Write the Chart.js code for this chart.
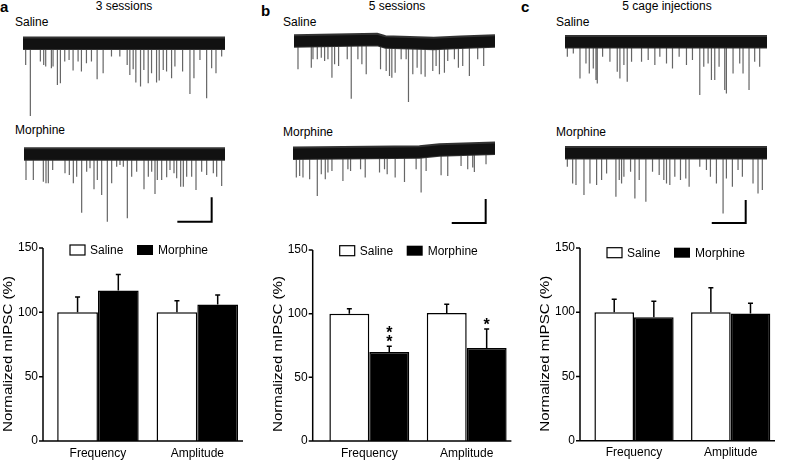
<!DOCTYPE html>
<html>
<head>
<meta charset="utf-8">
<script src="https://cdn.jsdelivr.net/npm/chart.js@4.4.1/dist/chart.umd.min.js"></script>
<style>
  body { margin: 0; background: #fff; }
  #page { position: relative; width: 785px; height: 463px; overflow: hidden;
          font-family: "Liberation Sans", Arial, sans-serif; color: #000; }
  #page canvas { position: absolute; }
  .lbl { position: absolute; font-size: 12px; line-height: 14px; white-space: nowrap; }
  .ttl { position: absolute; font-size: 12px; line-height: 14px; white-space: nowrap; transform: translateX(-50%); }
  .pl { position: absolute; font-size: 15px; font-weight: bold; line-height: 16px; }
</style>
</head>
<body>
<div id="page">
  <div class="pl" style="left:0px;top:-1px">a</div>
  <div class="pl" style="left:261px;top:3px">b</div>
  <div class="pl" style="left:521px;top:-1px">c</div>
  <div class="ttl" style="left:124px;top:-1px">3 sessions</div>
  <div class="ttl" style="left:397px;top:-1px">5 sessions</div>
  <div class="ttl" style="left:667px;top:-1px">5 cage injections</div>
  <div class="lbl" style="left:15px;top:15px">Saline</div>
  <div class="lbl" style="left:15px;top:123px">Morphine</div>
  <div class="lbl" style="left:283px;top:15px">Saline</div>
  <div class="lbl" style="left:283px;top:125px">Morphine</div>
  <div class="lbl" style="left:556px;top:15px">Saline</div>
  <div class="lbl" style="left:556px;top:125px">Morphine</div>

  <canvas id="traceASal" width="202" height="92" style="left:23px;top:30px"></canvas>
  <canvas id="traceAMor" width="201" height="88" style="left:24px;top:140px"></canvas>
  <canvas id="traceBSal" width="201" height="82" style="left:294px;top:26px"></canvas>
  <canvas id="traceBMor" width="202" height="92" style="left:293px;top:136px"></canvas>
  <canvas id="traceCSal" width="202" height="72" style="left:565px;top:30px"></canvas>
  <canvas id="traceCMor" width="202" height="88" style="left:565px;top:140px"></canvas>

  <canvas id="barA" width="260" height="233" style="left:0px;top:230px"></canvas>
  <canvas id="barB" width="260" height="233" style="left:260px;top:230px"></canvas>
  <canvas id="barC" width="265" height="233" style="left:520px;top:230px"></canvas>
</div>

<script>
// ---- bar chart data (normalized mIPSC, %) ----
const groups = ['Frequency', 'Amplitude'];
const yTicks = [0, 50, 100, 150];

const salineA = [100, 100];
const morphineA = [117, 106];
const salineErrA = [12, 9];
const morphineErrA = [12.5, 7.5];

const salineB = [100, 100.5];
const morphineB = [70, 73];
const salineErrB = [4, 7];
const morphineErrB = [4.5, 15];
const starsB = ['**', '*'];

const salineC = [100, 100];
const morphineC = [96, 99];
const salineErrC = [10, 19];
const morphineErrC = [12.5, 8];

// ---- example traces: event times (arb. units) and amplitudes (pA) ----
const aSalTimes = [8, 22, 52, 62, 68, 85, 90, 103, 112, 125, 138, 150, 165, 175, 190, 205, 222, 240, 265, 290, 312, 320, 330, 338, 352, 362, 375, 385, 400, 408, 420, 430, 445, 455, 478, 500, 512, 530, 550, 565, 578, 595];
const aSalAmps = [21.7, 72.7, 18.3, 21.7, 23.3, 25, 23.3, 41.7, 40, 18.3, 16.7, 27.3, 18.3, 28.3, 20, 18.3, 36, 30, 13.3, 13.3, 21.7, 31.7, 26, 39.3, 43.3, 26.7, 40, 30, 39.3, 37.3, 26.7, 28.3, 35, 23.3, 28.3, 50.7, 35, 16.7, 55, 25, 30, 13.3];

const aMorTimes = [6, 28, 58, 66, 73, 86, 123, 136, 148, 158, 173, 188, 198, 210, 220, 233, 250, 263, 278, 288, 298, 310, 323, 338, 360, 373, 383, 393, 400, 413, 428, 438, 450, 458, 470, 478, 488, 503, 516, 533, 548, 568, 578, 593];
const aMorAmps = [26, 26, 27.7, 29.3, 29.3, 16, 19.3, 21, 29.3, 22.7, 58.7, 17.7, 14.3, 35.3, 26, 41, 67.7, 29.3, 12.7, 11, 12.7, 64.3, 22.7, 17.7, 35.3, 22.7, 17.7, 40, 26, 26, 23.3, 16, 19.3, 24.3, 32.7, 32.7, 22.7, 22.7, 36, 17.7, 21, 19.3, 22.7, 32];

const bSalTimes = [12, 52, 57, 70, 82, 92, 102, 114, 122, 134, 160, 172, 192, 204, 217, 260, 277, 287, 294, 304, 322, 337, 344, 357, 370, 382, 394, 417, 427, 437, 452, 462, 482, 494, 507, 527, 552, 570];
const bSalAmps = [28.3, 26.7, 18.3, 18.3, 16.7, 20, 18.3, 36.7, 23.3, 25, 18.3, 57.7, 18.3, 23.3, 33.3, 28.3, 30, 35, 36.7, 31.7, 18.3, 18.3, 61, 33.3, 26.7, 33.3, 35.7, 30, 25, 33.3, 31.7, 20, 18.3, 26.7, 25, 35, 18.3, 25];
const bSalDriftT = [0, 250, 275, 420, 500, 604];
const bSalDrift = [0, 1.5, -1, -2.5, -1.2, 0];

const bMorTimes = [10, 20, 30, 50, 73, 85, 97, 105, 117, 150, 165, 173, 203, 217, 260, 275, 283, 307, 335, 370, 385, 400, 445, 465, 505, 525, 540, 545, 580];
const bMorAmps = [24.3, 22.7, 24.3, 26, 42.7, 21, 26, 19.3, 17.7, 27.7, 16, 17.7, 16, 24.3, 19.3, 16, 21, 24.3, 28.7, 16, 39.3, 17.7, 22, 22.7, 12.7, 16, 14.3, 18.7, 11];
const bMorDriftT = [0, 380, 440, 607];
const bMorDrift = [0, 1.3, 3.3, 5];

const cSalTimes = [7, 25, 45, 63, 73, 85, 93, 97, 113, 135, 157, 165, 177, 187, 200, 230, 250, 270, 285, 305, 323, 343, 365, 383, 405, 417, 430, 440, 450, 463, 480, 485, 505, 525, 535, 553, 570, 585];
const cSalAmps = [15, 11.7, 36.7, 21.7, 31.7, 26.7, 38.3, 41.7, 15, 20, 30, 36.7, 23.3, 40, 20, 20, 18.3, 23.3, 15, 21.7, 26.7, 15, 23.3, 18.3, 53.3, 25, 21.7, 38.3, 38.3, 25, 48.3, 51.7, 31.7, 21.7, 31.7, 48.3, 20, 25];

const cMorTimes = [7, 23, 33, 57, 75, 95, 110, 125, 153, 163, 170, 177, 197, 210, 223, 243, 263, 283, 297, 305, 315, 330, 347, 363, 373, 405, 425, 437, 455, 475, 485, 503, 520, 533, 565, 580, 593];
const cMorAmps = [14, 30.7, 32.3, 42.3, 30.7, 32.3, 27.3, 20.7, 44, 27.3, 30.7, 24, 19, 45.7, 27.3, 49, 19, 22.3, 27.3, 30.7, 32.3, 24, 27.3, 25.7, 34, 14, 17.3, 24, 30.7, 60.7, 25.7, 34, 17.3, 24, 30.7, 40.7, 37.3];

Chart.defaults.font.family = '"Liberation Sans", Arial, sans-serif';
Chart.defaults.font.size = 12;
Chart.defaults.color = '#000';

const FONT = '"Liberation Sans", Arial, sans-serif';

// axes, error bars, legend, stars and y title for the bar panels
const panelDecor = {
    id: 'panelDecor',
    afterDatasetsDraw(chart, args, opts) {
        const { ctx, chartArea } = chart;
        const y = chart.scales.y;
        const axisX = chartArea.left - opts.axisGap;
        const y0 = y.getPixelForValue(0);
        ctx.save();
        ctx.strokeStyle = '#000';
        ctx.fillStyle = '#000';
        ctx.lineWidth = 1.5;

        // y axis + ticks
        ctx.beginPath();
        ctx.moveTo(axisX, y0);
        ctx.lineTo(axisX, y.getPixelForValue(yTicks[yTicks.length - 1]));
        yTicks.forEach(v => {
            const py = y.getPixelForValue(v);
            ctx.moveTo(axisX - 4, py);
            ctx.lineTo(axisX, py);
        });
        // x axis
        ctx.moveTo(axisX - 0.75, y0);
        ctx.lineTo(chartArea.right - 4, y0);
        ctx.stroke();

        // error bars (upper only) and significance stars
        chart.data.datasets.forEach((ds, i) => {
            const meta = chart.getDatasetMeta(i);
            meta.data.forEach((bar, j) => {
                const top = y.getPixelForValue(ds.data[j]);
                const end = y.getPixelForValue(ds.data[j] + ds.errors[j]);
                ctx.beginPath();
                ctx.moveTo(bar.x, top);
                ctx.lineTo(bar.x, end);
                ctx.moveTo(bar.x - 2.5, end);
                ctx.lineTo(bar.x + 2.5, end);
                ctx.stroke();
                if (ds.stars && ds.stars[j]) {
                    ctx.font = 'bold 16px ' + FONT;
                    ctx.textAlign = 'center';
                    ctx.textBaseline = 'alphabetic';
                    for (let k = 0; k < ds.stars[j].length; k++) {
                        ctx.fillText('*', bar.x, end - k * 9.5 + 1);
                    }
                }
            });
        });

        // legend
        const ly = opts.legendY;
        ctx.lineWidth = 1.2;
        ctx.fillStyle = '#fff';
        ctx.fillRect(axisX + 27, ly - 5, 15, 10);
        ctx.strokeRect(axisX + 27, ly - 5, 15, 10);
        ctx.fillStyle = '#000';
        ctx.fillRect(axisX + 94, ly - 5, 16, 10);
        ctx.font = '12px ' + FONT;
        ctx.textAlign = 'left';
        ctx.textBaseline = 'middle';
        ctx.fillText(chart.data.datasets[0].label, axisX + 47, ly + 0.5);
        ctx.fillText(chart.data.datasets[1].label, axisX + 115, ly + 0.5);

        // y axis title, stretched along its length to the reference span
        const title = 'Normalized mIPSC (%)';
        const w = ctx.measureText(title).width;
        ctx.translate(axisX - 34, y0 - 87);
        ctx.rotate(-Math.PI / 2);
        ctx.scale(156 / w, 1);
        ctx.textAlign = 'center';
        ctx.fillText(title, 0, 0);
        ctx.restore();
    }
};

function makeBarChart(id, saline, morphine, salErr, morErr, stars, lay) {
    return new Chart(document.getElementById(id), {
        type: 'bar',
        data: {
            labels: groups,
            datasets: [
                {
                    label: 'Saline',
                    data: saline,
                    errors: salErr,
                    backgroundColor: '#fff',
                    borderColor: '#000',
                    borderWidth: 1.5
                },
                {
                    label: 'Morphine',
                    data: morphine,
                    errors: morErr,
                    stars: stars,
                    backgroundColor: '#000',
                    borderColor: '#000',
                    borderWidth: 1.5
                }
            ]
        },
        options: {
            responsive: false,
            animation: false,
            devicePixelRatio: 1,
            categoryPercentage: 0.82,
            barPercentage: 1,
            layout: { padding: { top: lay.top, right: lay.right, left: 0, bottom: 0 } },
            plugins: {
                legend: { display: false },
                tooltip: { enabled: false },
                panelDecor: { axisGap: lay.axisGap, legendY: lay.legendY }
            },
            scales: {
                x: {
                    grid: { display: false, drawTicks: false },
                    border: { display: false },
                    ticks: { padding: 5, color: '#000', font: { size: 12 } },
                    afterFit: s => { s.height = lay.xHeight; }
                },
                y: {
                    min: 0,
                    max: 150,
                    grid: { display: false, drawTicks: false },
                    border: { display: false },
                    ticks: { stepSize: 50, padding: lay.axisGap + 5, color: '#000', font: { size: 12 } },
                    afterFit: s => { s.width = lay.left; }
                }
            }
        },
        plugins: [panelDecor]
    });
}

function interpDrift(tArr, dArr, t) {
    for (let i = 1; i < tArr.length; i++) {
        if (t <= tArr[i]) {
            const f = (t - tArr[i - 1]) / (tArr[i] - tArr[i - 1]);
            return dArr[i - 1] + f * (dArr[i] - dArr[i - 1]);
        }
    }
    return dArr[dArr.length - 1];
}

function makeTrace(id, times, amps, opt) {
    const canvas = document.getElementById(id);
    const h = canvas.height;
    const halfBand = 5.8;
    const dT = opt.driftT || [0, opt.tMax];
    const dV = opt.drift || [0, 0];
    const bandTop = dT.map((t, i) => ({ x: t, y: dV[i] + halfBand }));
    const bandBot = dT.map((t, i) => ({ x: t, y: dV[i] - halfBand }));
    const spikes = [];
    times.forEach((t, i) => {
        const base = interpDrift(dT, dV, t);
        spikes.push({ x: t, y: base }, { x: t, y: -amps[i] }, { x: t, y: null });
    });
    const datasets = [
        { data: bandTop, fill: '+1', backgroundColor: '#111', borderColor: '#333', borderWidth: 2, pointRadius: 0, order: 0 },
        { data: bandBot, fill: false, borderColor: '#333', borderWidth: 2, pointRadius: 0, order: 0 },
        { data: spikes, fill: false, borderColor: '#666', borderWidth: 1.2, pointRadius: 0, spanGaps: false, order: 1 }
    ];
    if (opt.bar) {
        const b = opt.bar;
        datasets.push({
            data: [{ x: b.t0, y: b.amp0 }, { x: b.t1, y: b.amp0 }, { x: b.t1, y: b.amp1 }],
            fill: false, borderColor: '#000', borderWidth: 2, pointRadius: 0, order: 0
        });
    }
    return new Chart(canvas, {
        type: 'line',
        data: { datasets },
        options: {
            responsive: false,
            animation: false,
            devicePixelRatio: 1,
            parsing: false,
            normalized: true,
            layout: { padding: 0 },
            plugins: { legend: { display: false }, tooltip: { enabled: false } },
            scales: {
                x: { type: 'linear', display: false, min: 0, max: opt.tMax },
                y: { type: 'linear', display: false, min: opt.base - h, max: opt.base }
            }
        }
    });
}

makeTrace('traceASal', aSalTimes, aSalAmps, { tMax: 605, base: 13.3 });
makeTrace('traceAMor', aMorTimes, aMorAmps, { tMax: 603, base: 14,
    bar: { t0: 460, t1: 563, amp0: -67.7, amp1: -43.3 } });
makeTrace('traceBSal', bSalTimes, bSalAmps, { tMax: 604, base: 15, driftT: bSalDriftT, drift: bSalDrift });
makeTrace('traceBMor', bMorTimes, bMorAmps, { tMax: 607, base: 17.3, driftT: bMorDriftT, drift: bMorDrift,
    bar: { t0: 477, t1: 579, amp0: -69.7, amp1: -45.7 } });
makeTrace('traceCSal', cSalTimes, cSalAmps, { tMax: 607, base: 11.7 });
makeTrace('traceCMor', cMorTimes, cMorAmps, { tMax: 607, base: 12.7,
    bar: { t0: 441, t1: 543, amp0: -70.3, amp1: -47.3 } });

makeBarChart('barA', salineA, morphineA, salineErrA, morphineErrA, null,
    { left: 48.25, right: 13, top: 18, xHeight: 22, axisGap: 5.25, legendY: 20 });
makeBarChart('barB', salineB, morphineB, salineErrB, morphineErrB, starsB,
    { left: 60.6, right: 4.6, top: 20, xHeight: 22, axisGap: 7.9, legendY: 20.7 });
makeBarChart('barC', salineC, morphineC, salineErrC, morphineErrC, null,
    { left: 65.7, right: 6, top: 16.7, xHeight: 22.3, axisGap: 5.7, legendY: 22.7 });
</script>
</body>
</html>
